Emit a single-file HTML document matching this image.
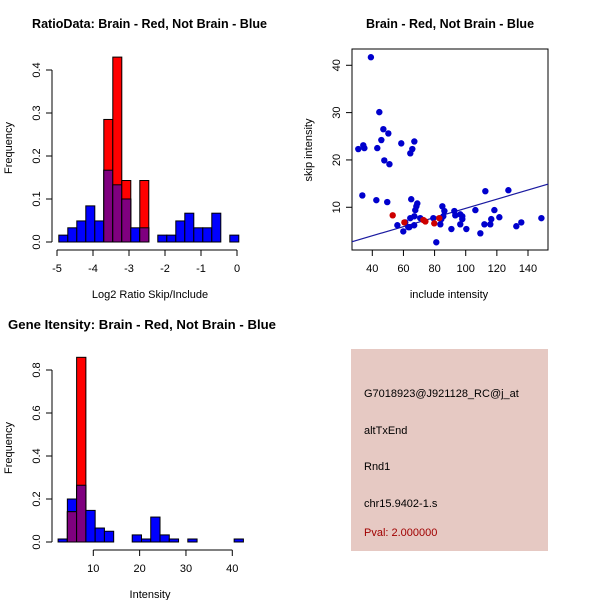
<!DOCTYPE html>
<html><head><meta charset="utf-8"><style>
body{margin:0;background:#fff}
svg{display:block;font-family:"Liberation Sans",sans-serif}
</style></head><body>
<svg id="c" width="600" height="600" viewBox="0 0 600 600">
<g id="p1"></g>
<g id="p2"></g>
<g id="p3"></g>
<g>
<rect x="351" y="349" width="197" height="202" fill="#e6c9c3"/>
<g font-size="11" fill="#000">
<text x="364" y="397">G7018923@J921128_RC@j_at</text>
<text x="364" y="434">altTxEnd</text>
<text x="364" y="470">Rnd1</text>
<text x="364" y="507">chr15.9402-1.s</text>
<text x="364" y="536" fill="#a00000">Pval: 2.000000</text>
</g></g>
</svg>
<script>
// Plot 1 data
const h1Start = -4.95, h1Width = 0.25;
const h1Blue = [0.016,0.033,0.049,0.084,0.049,0.167,0.133,0.10,0.033,0.033,0,0.016,0.016,0.049,0.067,0.033,0.033,0.067,0,0.016];
const h1Red  = [0,0,0,0,0,0.285,0.43,0.143,0,0.143,0,0,0,0,0,0,0,0,0,0];
const h1XTicks = [-5,-4,-3,-2,-1,0];
const h1YTicks = [0,0.1,0.2,0.3,0.4];
// Plot 3 data
const h3Start = 2.4, h3Width = 2;
const h3Blue = [0.014,0.2,0.264,0.147,0.065,0.05,0,0,0.033,0.014,0.116,0.033,0.014,0,0.014,0,0,0,0,0.014];
const h3Red  = [0,0.141,0.859,0,0,0,0,0,0,0,0,0,0,0,0,0,0,0,0,0];
const h3XTicks = [10,20,30,40];
const h3YTicks = [0,0.2,0.4,0.6,0.8];
// Scatter data
const blueX = [39.1,44.5,31,34.2,34.9,43.2,45.8,47.1,50.3,47.7,51,58.6,67,65.7,64.4,33.6,42.6,49.6,65,68.9,68.3,67.6,67,64.4,70.8,56.1,61.2,59.9,63.8,66.9,63.1,79.2,83.7,81.1,85,86.3,85.6,84.3,92.7,93.3,96.5,97.8,97.8,96.5,90.8,100.4,106.2,109.4,112.6,112,115.8,116.4,118.4,121.6,127.4,132.5,135.7,148.6];
const blueY = [41.7,30.1,22.3,23.1,22.5,22.5,24.2,26.5,25.6,19.9,19.1,23.5,23.9,22.3,21.4,12.5,11.5,11.1,11.7,10.8,10.2,9.4,8.1,7.7,7.7,6.2,6.8,4.9,5.8,6.2,5.8,7.7,6.4,2.6,10.2,9.2,8.1,7.5,9.2,8.3,8.5,8.1,7.5,6.4,5.4,5.4,9.4,4.5,13.4,6.4,6.4,7.5,9.4,7.9,13.6,6.0,6.8,7.7];
const redX = [53.1,60.6,72.8,74.1,79.8,83];
const redY = [8.3,6.8,7.3,7.0,6.6,7.7];
const fitIntercept = 0.12, fitSlope = 0.0966;
const sXTicks = [40,60,80,100,120,140];
const sYTicks = [10,20,30,40];

const NS="http://www.w3.org/2000/svg";
function mk(parent,tag,attrs,txt){const e=document.createElementNS(NS,tag);for(const k in attrs)e.setAttribute(k,attrs[k]);if(txt!==undefined)e.textContent=txt;parent.appendChild(e);return e;}

function hist(g,cfg){
  const sx=v=>cfg.x0+(v-cfg.xa)*cfg.kx, sy=v=>cfg.y0-v*cfg.ky;
  cfg.blue.forEach((v,i)=>{
    const l=sx(cfg.start+i*cfg.w), r=sx(cfg.start+(i+1)*cfg.w);
    const red=cfg.red[i];
    if(v>0){const e=mk(g,'rect',{x:l,y:sy(v),width:r-l,height:sy(0)-sy(v),fill:'#0000ff',stroke:'#000','stroke-width':1});
      
      }
    if(red>0){const e=mk(g,'rect',{x:l,y:sy(red),width:r-l,height:sy(0)-sy(red),fill:'#ff0000',stroke:'#000','stroke-width':1});
      
      }
    const m=Math.min(v,red);
    if(m>0){const e=mk(g,'rect',{x:l,y:sy(m),width:r-l,height:sy(0)-sy(m),fill:'#7f007f',stroke:'#000','stroke-width':1});
      
      }
  });
  const ya=cfg.yTicks;
  mk(g,'line',{x1:cfg.yAxisX,x2:cfg.yAxisX,y1:sy(ya[0]),y2:sy(ya[ya.length-1]),stroke:'#000'});
  ya.forEach(t=>{const y=sy(t);mk(g,'line',{x1:cfg.yAxisX-6,x2:cfg.yAxisX,y1:y,y2:y,stroke:'#000'});
    const e=mk(g,'text',{x:cfg.yAxisX-12,y:y,'font-size':11,'text-anchor':'middle',transform:`rotate(-90 ${cfg.yAxisX-12} ${y})`},t.toFixed(1));
    
    });
  const xt=cfg.xTicks, ax=cfg.xAxisY;
  mk(g,'line',{x1:sx(xt[0]),x2:sx(xt[xt.length-1]),y1:ax,y2:ax,stroke:'#000'});
  xt.forEach(t=>{const x=sx(t);mk(g,'line',{x1:x,x2:x,y1:ax,y2:ax+6,stroke:'#000'});
    const e=mk(g,'text',{x:x,y:ax+22,'font-size':11,'text-anchor':'middle'},String(t));
    
    });
  let e=mk(g,'text',{x:cfg.titleX,y:cfg.titleY,'font-size':12.5,'font-weight':'bold','text-anchor':'middle',textLength:cfg.titleLen,lengthAdjust:'spacingAndGlyphs'},cfg.title);
  
  e=mk(g,'text',{x:cfg.xlabX,y:ax+48,'font-size':11,'text-anchor':'middle'},cfg.xlab);
  
  e=mk(g,'text',{x:12,y:cfg.ylabY,'font-size':11,'text-anchor':'middle',transform:`rotate(-90 12 ${cfg.ylabY})`},'Frequency');
  
}
hist(document.getElementById('p1'),{x0:57,xa:-5,kx:36,y0:242,ky:430,start:h1Start,w:h1Width,blue:h1Blue,red:h1Red,
  xTicks:h1XTicks,yTicks:h1YTicks,yAxisX:52,xAxisY:250,title:'RatioData: Brain - Red, Not Brain - Blue',titleX:149.5,titleY:28,titleLen:235,
  xlab:'Log2 Ratio Skip/Include',xlabX:150,ylabY:148});
hist(document.getElementById('p3'),{x0:93.3,xa:10,kx:4.633,y0:542,ky:215,start:h3Start,w:h3Width,blue:h3Blue,red:h3Red,
  xTicks:h3XTicks,yTicks:h3YTicks,yAxisX:52,xAxisY:550,title:'Gene Itensity: Brain - Red, Not Brain - Blue',titleX:142,titleY:329,titleLen:268,
  xlab:'Intensity',xlabX:150,ylabY:448});

(function(){
  const g=document.getElementById('p2');
  const L=352,R=548,T=49,B=250;
  const sx=v=>372.3+(v-40)*1.557, sy=v=>254.6-v*4.733;
  mk(g,'rect',{x:L,y:T,width:R-L,height:B-T,fill:'none',stroke:'#000'});
  const defs=mk(g,'clipPath',{id:'clp'});mk(defs,'rect',{x:L,y:T,width:R-L,height:B-T});
  const xa=26.8, xb=153;
  const ln=mk(g,'line',{x1:sx(xa),y1:sy(fitIntercept+fitSlope*xa),x2:sx(xb),y2:sy(fitIntercept+fitSlope*xb),stroke:'#1a1aa0','stroke-width':1.2,'clip-path':'url(#clp)'});
  
  blueX.forEach((x,i)=>{const c=mk(g,'circle',{cx:sx(x),cy:sy(blueY[i]),r:3.2,fill:'#0000cd'});
    
    });
  redX.forEach((x,i)=>{const c=mk(g,'circle',{cx:sx(x),cy:sy(redY[i]),r:3.2,fill:'#cd0000'});
    
    });
  sXTicks.forEach(t=>{const x=sx(t);mk(g,'line',{x1:x,x2:x,y1:B,y2:B+6,stroke:'#000'});
    const e=mk(g,'text',{x:x,y:B+22,'font-size':11,'text-anchor':'middle'},String(t));
    });
  sYTicks.forEach(t=>{const y=sy(t);mk(g,'line',{x1:L-6,x2:L,y1:y,y2:y,stroke:'#000'});
    const e=mk(g,'text',{x:L-12,y:y,'font-size':11,'text-anchor':'middle',transform:`rotate(-90 ${L-12} ${y})`},String(t));
    });
  let e=mk(g,'text',{x:450,y:28,'font-size':12.5,'font-weight':'bold','text-anchor':'middle'},'Brain - Red, Not Brain - Blue');
  
  e=mk(g,'text',{x:449,y:298,'font-size':11,'text-anchor':'middle'},'include intensity');
  
  e=mk(g,'text',{x:312,y:150,'font-size':11,'text-anchor':'middle',transform:'rotate(-90 312 150)'},'skip intensity');
  
})();
</script>
</body></html>
